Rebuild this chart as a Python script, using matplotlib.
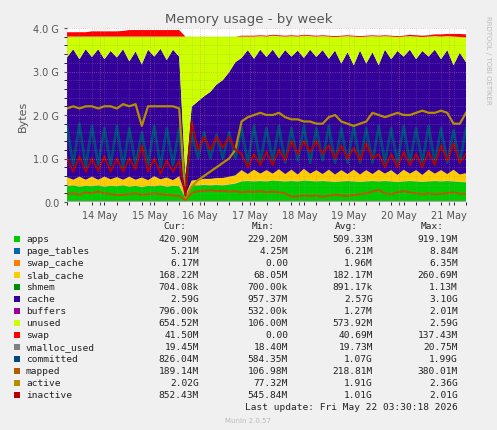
import numpy as np
import matplotlib
matplotlib.use("Agg")
import matplotlib.pyplot as plt
from matplotlib.patches import Rectangle
from matplotlib.ticker import MultipleLocator

# ---- data (GB), one sample every 3 hours starting 13 May ~08:00 ----
apps = [0.36,0.38,0.35,0.37,0.36,0.38,0.35,0.37,0.36,0.38,
        0.35,0.37,0.34,0.37,0.36,0.38,0.35,0.37,0.36,0.10,
        0.38,0.38,0.39,0.38,0.39,0.38,0.40,0.42,0.47,0.48,
        0.47,0.48,0.47,0.49,0.48,0.47,0.48,0.47,0.49,0.48,
        0.47,0.48,0.47,0.46,0.47,0.48,0.47,0.46,0.47,0.48,
        0.47,0.48,0.47,0.46,0.47,0.48,0.47,0.46,0.47,0.48,
        0.47,0.48,0.47,0.46,0.45]
page_tables = [0.005] * 65
swap_cache = [0.006] * 65
slab_cache = [0.20,0.12,0.22,0.13,0.21,0.12,0.22,0.14,0.20,0.12,
              0.22,0.13,0.21,0.12,0.22,0.13,0.20,0.12,0.22,0.05,
              0.10,0.12,0.13,0.14,0.15,0.16,0.17,0.18,0.25,0.15,
              0.26,0.16,0.25,0.15,0.26,0.16,0.25,0.15,0.26,0.16,
              0.25,0.15,0.26,0.16,0.25,0.15,0.26,0.16,0.25,0.15,
              0.26,0.16,0.25,0.15,0.26,0.16,0.25,0.15,0.26,0.16,
              0.25,0.15,0.26,0.16,0.20]
shmem = [0.001] * 65
cache = [2.75,3.00,2.70,3.00,2.75,3.00,2.70,2.95,2.75,3.00,
         2.65,2.95,2.60,3.00,2.75,3.00,2.70,3.00,2.75,0.40,
         1.70,1.80,1.90,2.00,2.15,2.25,2.40,2.60,2.58,2.85,
         2.55,2.85,2.60,2.85,2.55,2.85,2.60,2.85,2.55,2.85,
         2.60,2.85,2.55,2.85,2.45,2.80,2.40,2.85,2.45,2.80,
         2.40,2.85,2.55,2.85,2.60,2.85,2.55,2.85,2.60,2.85,
         2.55,2.85,2.40,2.80,2.55]
buffers = [0.001] * 65
unused = [0.48,0.29,0.52,0.29,0.47,0.29,0.52,0.33,0.48,0.29,
          0.57,0.34,0.64,0.30,0.46,0.28,0.54,0.30,0.46,3.24,
          1.61,1.49,1.37,1.27,1.10,1.00,0.82,0.59,0.49,0.31,
          0.51,0.31,0.47,0.32,0.51,0.31,0.47,0.32,0.51,0.31,
          0.47,0.32,0.51,0.31,0.62,0.37,0.66,0.31,0.62,0.37,
          0.66,0.31,0.52,0.32,0.46,0.31,0.52,0.32,0.46,0.31,
          0.52,0.32,0.66,0.36,0.57]
swap = [0.10,0.10,0.10,0.10,0.12,0.12,0.12,0.12,0.12,0.13,
        0.15,0.15,0.15,0.15,0.15,0.15,0.15,0.15,0.15,0.00,
        0.00,0.00,0.00,0.00,0.00,0.00,0.00,0.00,0.02,0.02,
        0.02,0.02,0.02,0.02,0.02,0.02,0.02,0.02,0.02,0.02,
        0.02,0.02,0.02,0.02,0.02,0.02,0.02,0.02,0.02,0.02,
        0.02,0.02,0.02,0.02,0.02,0.03,0.03,0.03,0.03,0.04,
        0.05,0.05,0.06,0.07,0.07]
vmalloc_used = [0.02] * 65
committed = [1.75,0.85,1.80,0.80,1.75,0.85,1.70,0.85,1.75,0.80,
             1.70,0.85,1.60,0.85,1.75,0.80,1.70,0.85,1.70,0.30,
             1.60,1.00,1.60,1.00,1.55,1.00,1.60,1.00,1.70,0.90,
             1.75,0.90,1.70,0.95,1.75,0.90,1.70,0.95,1.75,0.90,
             1.70,0.95,1.75,0.90,1.70,0.90,1.75,0.90,1.70,0.90,
             1.75,0.90,1.70,0.90,1.75,0.90,1.70,0.90,1.75,0.90,
             1.70,0.90,1.65,0.90,1.70]
mapped = [0.18,0.20,0.17,0.22,0.20,0.24,0.20,0.18,0.16,0.17,
          0.18,0.20,0.17,0.18,0.20,0.18,0.17,0.15,0.14,0.05,
          0.20,0.25,0.26,0.27,0.25,0.26,0.24,0.25,0.22,0.24,
          0.23,0.25,0.22,0.24,0.22,0.20,0.12,0.13,0.15,0.14,
          0.15,0.12,0.14,0.17,0.15,0.14,0.16,0.18,0.20,0.24,
          0.28,0.20,0.18,0.22,0.25,0.22,0.20,0.18,0.20,0.18,
          0.19,0.20,0.22,0.19,0.19]
active = [2.15,2.20,2.15,2.20,2.20,2.15,2.20,2.20,2.15,2.25,
          2.20,2.25,1.75,2.20,2.20,2.20,2.20,2.20,2.15,0.10,
          0.35,0.50,0.60,0.70,0.80,0.90,1.00,1.20,1.85,1.95,
          2.00,2.05,2.00,2.00,2.05,1.95,1.90,1.90,1.85,1.85,
          1.80,1.80,1.95,2.00,1.85,1.80,1.75,1.80,1.85,2.05,
          2.00,1.95,2.00,2.05,2.00,2.00,2.05,2.10,2.05,2.05,
          2.10,2.05,1.80,1.80,2.05]
inactive = [1.00,0.70,1.05,0.70,1.00,0.72,1.05,0.70,1.00,0.70,
            1.00,0.75,1.30,0.70,1.00,0.65,0.95,0.70,0.95,0.15,
            1.85,1.20,1.50,1.20,1.50,1.25,1.50,1.20,1.10,0.80,
            1.10,0.85,1.15,0.85,1.20,0.95,1.40,1.10,1.40,1.15,
            1.40,1.10,1.30,1.00,1.30,1.00,1.25,0.95,1.35,1.00,
            1.10,0.80,1.10,0.80,1.15,0.85,1.10,0.80,1.15,0.85,
            1.30,0.95,1.35,0.90,1.10]

day_labels = ["14 May", "15 May", "16 May", "17 May", "18 May", "19 May", "20 May", "21 May"]

names = ["apps","page_tables","swap_cache","slab_cache","shmem","cache","buffers","unused","swap",
         "vmalloc_used","committed","mapped","active","inactive"]
cur = ["420.90M","5.21M","6.17M","168.22M","704.08k","2.59G","796.00k","654.52M","41.50M",
       "19.45M","826.04M","189.14M","2.02G","852.43M"]
mins = ["229.20M","4.25M","0.00","68.05M","700.00k","957.37M","532.00k","106.00M","0.00",
        "18.40M","584.35M","106.98M","77.32M","545.84M"]
avgs = ["509.33M","6.21M","1.96M","182.17M","891.17k","2.57G","1.27M","573.92M","40.69M",
        "19.73M","1.07G","218.81M","1.91G","1.01G"]
maxs = ["919.19M","8.84M","6.35M","260.69M","1.13M","3.10G","2.01M","2.59G","137.43M",
        "20.75M","1.99G","380.01M","2.36G","2.01G"]
colors = ["#00CC00","#0066B3","#FF8000","#FFCC00","#008F00","#330099","#990099","#CCFF00","#FF0000",
          "#808080","#00487D","#B35A00","#B38F00","#B30000"]

N = len(apps)
x = np.arange(N) * 0.125

fig = plt.figure(figsize=(4.97, 4.31), dpi=100, facecolor="#F0F0F0")
ax = fig.add_axes([67/497, 1-203/431, 399/497, 174/431])
ax.set_facecolor("white")
stack = [apps, page_tables, swap_cache, slab_cache, shmem, cache, buffers, unused, swap]
ax.stackplot(x, *stack, colors=colors[:9], linewidth=0)
lines = [vmalloc_used, committed, mapped, active, inactive]
lws = [1.0, 2.0, 1.5, 1.6, 1.4]
for s, c, lw in zip(lines, colors[9:], lws):
    ax.plot(x, s, color=c, lw=lw)

ax.set_xlim(0, (N - 1) * 0.125)
ax.set_ylim(0, 4.0)
ax.set_yticks([0, 1, 2, 3, 4])
ax.set_yticklabels(["0.0", "1.0 G", "2.0 G", "3.0 G", "4.0 G"])
ticks = [0.66 + i for i in range(len(day_labels))]
ax.set_xticks(ticks)
ax.set_xticklabels(day_labels)
ax.xaxis.set_minor_locator(MultipleLocator(0.25))
ax.yaxis.set_minor_locator(MultipleLocator(0.2))
ax.grid(which="minor", color="#999999", ls=":", lw=0.5, alpha=0.5)
ax.grid(which="major", color="#E08080", ls=":", lw=0.6, alpha=0.6)
ax.set_axisbelow(False)
ax.tick_params(labelsize=7, colors="#555555", length=2)
for sp in ax.spines.values():
    sp.set_visible(False)
ax.axhline(0, color="#AAAAAA", lw=1.5)
ax.set_ylabel("Bytes", fontsize=8, color="#555555")

fig.text(0.5, 1-20/431, "Memory usage - by week", ha="center", va="center", fontsize=9.5, color="#555555")
fig.text(488/497, 1-60/431, "RRDTOOL / TOBI OETIKER", rotation=270, ha="center", va="center",
         fontsize=5, color="#BBBBBB")

mono = "DejaVu Sans Mono"
fs = 6.8
for lab, xr in [("Cur:", 186), ("Min:", 275), ("Avg:", 358), ("Max:", 444)]:
    fig.text(xr/497, 1-227/431, lab, ha="right", va="center", family=mono, fontsize=fs, color="#222222")
for i, n in enumerate(names):
    yy = 1 - (240 + 12*i)/431
    fig.patches.append(Rectangle((14/497, yy-3/431), 6/497, 6/431, transform=fig.transFigure,
                                 facecolor=colors[i], edgecolor="none"))
    fig.text(26/497, yy, n, ha="left", va="center", family=mono, fontsize=fs, color="#222222")
    for v, xr in [(cur[i], 199), (mins[i], 288), (avgs[i], 373), (maxs[i], 458)]:
        fig.text(xr/497, yy, v, ha="right", va="center", family=mono, fontsize=fs, color="#222222")
fig.text(458/497, 1-408/431, "Last update: Fri May 22 03:30:18 2026", ha="right", va="center",
         family=mono, fontsize=fs, color="#222222")
fig.text(248/497, 1-421/431, "Munin 2.0.57", ha="center", va="center", fontsize=5, color="#BBBBBB")

fig.savefig("out.png", dpi=100, facecolor=fig.get_facecolor())
